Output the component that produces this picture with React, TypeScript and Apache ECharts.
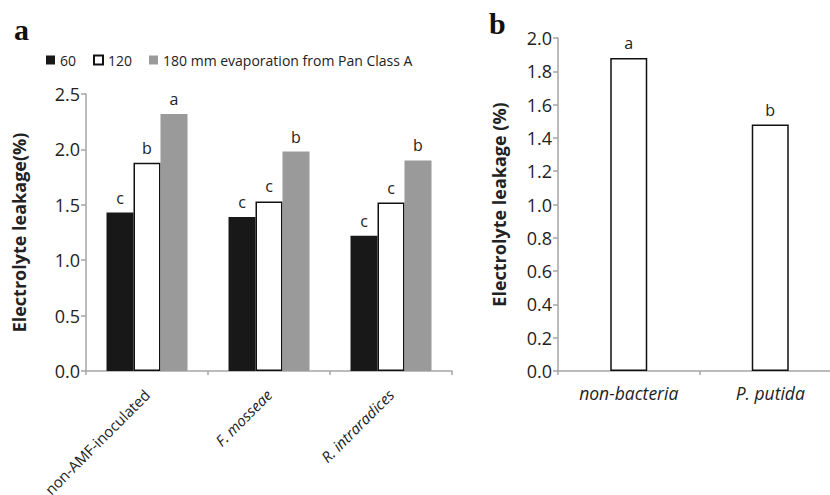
import React, { useEffect, useRef } from "react";
import * as echarts from "echarts";

const categoriesA = ["non-AMF-inoculated", "F. mosseae", "R. intraradices"];
const italicA = [false, true, true];
const seriesNamesA = ["60", "120", "180 mm evaporation from Pan Class A"];
const values60 = [1.43, 1.39, 1.22];
const values120 = [1.88, 1.53, 1.52];
const values180 = [2.32, 1.98, 1.9];
const letters60 = ["c", "c", "c"];
const letters120 = ["b", "c", "c"];
const letters180 = ["a", "b", "b"];

const categoriesB = ["non-bacteria", "P. putida"];
const valuesB = [1.88, 1.48];
const lettersB = ["a", "b"];

const yTicksA = { min: 0, max: 2.5, interval: 0.5 };
const yTicksB = { min: 0, max: 2.0, interval: 0.2 };

const FONT = "Open Sans";
const AXIS_GRAY = "#a6a6a6";
const TEXT = "#222";

export default function App() {
  const ref = useRef<HTMLDivElement>(null);
  useEffect(() => {
    document.body.style.margin = "0";
    const chart = echarts.init(ref.current!, undefined, { renderer: "svg" });
    const labelCfg = (letters: string[]) => ({
      show: true,
      position: "top" as const,
      distance: 7,
      fontFamily: FONT,
      fontSize: 16,
      color: TEXT,
      formatter: (p: any) => letters[p.dataIndex],
    });
    const yAxisCommon = (name: string, gap: number, t: any, gi: number) => ({
      type: "value",
      gridIndex: gi,
      min: t.min,
      max: t.max,
      interval: t.interval,
      name,
      nameLocation: "middle",
      nameGap: gap,
      nameTextStyle: { fontFamily: FONT, fontSize: 18, fontWeight: "bold", color: TEXT },
      axisLine: { show: true, lineStyle: { color: AXIS_GRAY, width: 1.5 } },
      axisTick: { show: true, length: 5, lineStyle: { color: AXIS_GRAY, width: 1.5 } },
      splitLine: { show: false },
      axisLabel: {
        fontFamily: FONT,
        fontSize: 18,
        color: TEXT,
        margin: 6,
        formatter: (v: number) => v.toFixed(1),
      },
    });
    chart.setOption({
      animation: false,
      backgroundColor: "#fff",
      legend: {
        data: seriesNamesA,
        left: 41,
        top: 48,
        icon: "rect",
        itemWidth: 9,
        itemHeight: 9,
        itemGap: 17,
        textStyle: { fontFamily: FONT, fontSize: 14, color: TEXT },
      },
      graphic: [
        { type: "text", left: 14, top: 14, style: { text: "a", fontFamily: "Liberation Serif", fontWeight: "bold", fontSize: 30, fill: "#111" } },
        { type: "text", left: 489, top: 8, style: { text: "b", fontFamily: "Liberation Serif", fontWeight: "bold", fontSize: 30, fill: "#111" } },
      ],
      grid: [
        { left: 86, top: 94, width: 366, height: 277, containLabel: false, outerBoundsMode: "none" },
        { left: 558, top: 38, width: 283, height: 333, containLabel: false, outerBoundsMode: "none" },
      ],
      xAxis: [
        {
          type: "category",
          gridIndex: 0,
          data: categoriesA,
          axisLine: { lineStyle: { color: AXIS_GRAY, width: 1.5 } },
          axisTick: { show: true, length: 4, lineStyle: { color: AXIS_GRAY, width: 1.5 } },
          axisLabel: {
            rotate: 45,
            margin: 21,
            interval: 0,
            fontFamily: FONT,
            fontSize: 15,
            color: TEXT,
            formatter: (v: string, i: number) => (italicA[i] ? `{i|${v}}` : `{n|${v}}`),
            rich: {
              i: { fontFamily: FONT, fontSize: 15, fontStyle: "italic", color: TEXT },
              n: { fontFamily: FONT, fontSize: 15, color: TEXT },
            },
          },
        },
        {
          type: "category",
          gridIndex: 1,
          data: categoriesB,
          axisLine: { lineStyle: { color: AXIS_GRAY, width: 1.5 } },
          axisTick: { show: true, length: 4, lineStyle: { color: AXIS_GRAY, width: 1.5 } },
          axisLabel: {
            margin: 13,
            interval: 0,
            fontFamily: FONT,
            fontSize: 17.5,
            fontStyle: "italic",
            color: TEXT,
          },
        },
      ],
      yAxis: [
        yAxisCommon("Electrolyte leakage(%)", 58, yTicksA, 0),
        yAxisCommon("Electrolyte leakage (%)", 50, yTicksB, 1),
      ],
      series: [
        {
          name: seriesNamesA[0],
          type: "bar",
          xAxisIndex: 0,
          yAxisIndex: 0,
          data: values60,
          barWidth: 27,
          barGap: "0%",
          itemStyle: { color: "#181818" },
          label: labelCfg(letters60),
        },
        {
          name: seriesNamesA[1],
          type: "bar",
          xAxisIndex: 0,
          yAxisIndex: 0,
          data: values120,
          barWidth: 27,
          barGap: "0%",
          itemStyle: { color: "#ffffff", borderColor: "#111", borderWidth: 1.5 },
          label: labelCfg(letters120),
        },
        {
          name: seriesNamesA[2],
          type: "bar",
          xAxisIndex: 0,
          yAxisIndex: 0,
          data: values180,
          barWidth: 27,
          barGap: "0%",
          itemStyle: { color: "#9a9a9a" },
          label: labelCfg(letters180),
        },
        {
          name: "b",
          type: "bar",
          xAxisIndex: 1,
          yAxisIndex: 1,
          data: valuesB,
          barWidth: 37,
          itemStyle: { color: "#ffffff", borderColor: "#111", borderWidth: 1.5 },
          label: labelCfg(lettersB),
        },
      ],
    });
    return () => chart.dispose();
  }, []);
  return <div ref={ref} style={{ width: 830, height: 495 }} />;
}
